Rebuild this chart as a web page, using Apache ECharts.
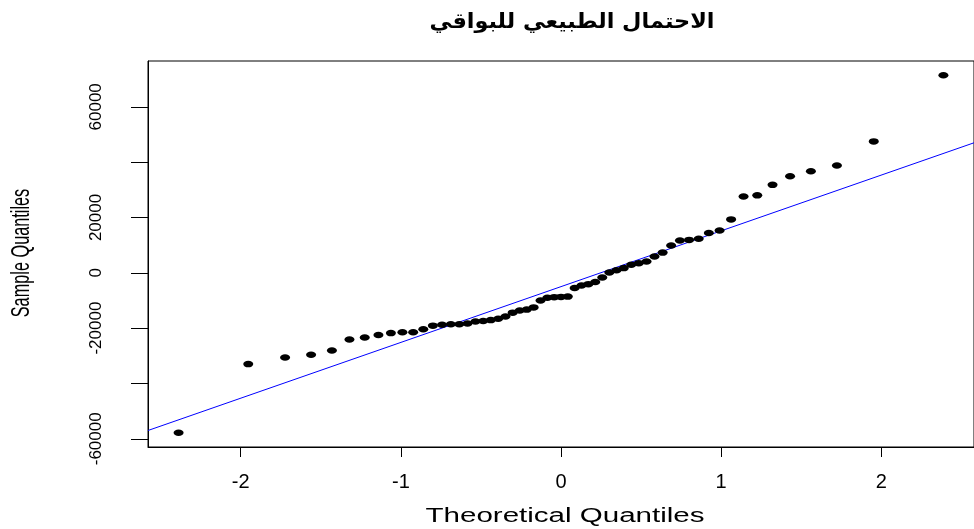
<!DOCTYPE html>
<html>
<head>
<meta charset="utf-8">
<script src="https://cdn.jsdelivr.net/npm/echarts@6/dist/echarts.min.js"></script>
<style>
html,body{margin:0;padding:0;background:#fff;}
#chart{width:974px;height:529px;}
</style>
</head>
<body>
<div id="chart"></div>
<script>
// ---- data ----
const titleText = 'الاحتمال الطبيعي للبواقي';
const xTitle = 'Theoretical Quantiles';
const yTitle = 'Sample Quantiles';

const theoretical = [-2.388, -1.953, -1.723, -1.5605, -1.4305, -1.321, -1.2256, -1.140, -1.0622, -0.9903,
  -0.9232, -0.8599, -0.7999, -0.7427, -0.6878, -0.6349, -0.5838, -0.5342, -0.4858, -0.4385,
  -0.3922, -0.3467, -0.3019, -0.2577, -0.2140, -0.1708, -0.1278, -0.0851, -0.0425, 0,
  0.0425, 0.0851, 0.1278, 0.1708, 0.2140, 0.2577, 0.3019, 0.3467, 0.3922, 0.4385,
  0.4858, 0.5342, 0.5838, 0.6349, 0.6878, 0.7427, 0.7999, 0.8599, 0.9232, 0.9903,
  1.0622, 1.140, 1.2256, 1.321, 1.4305, 1.5605, 1.723, 1.953, 2.388];

const sample = [-57800, -33000, -30600, -29600, -28100, -24100, -23400, -22500, -21800, -21500,
  -21500, -20400, -19100, -18800, -18600, -18600, -18300, -17600, -17400, -17100,
  -16600, -15800, -14400, -13600, -13300, -12500, -10000, -9000, -8800, -8700,
  -8600, -5500, -4600, -4100, -3300, -1700, 100, 900, 1700, 2900,
  3500, 4100, 5900, 7300, 9900, 11700, 11900, 12300, 14400, 15300,
  19300, 27600, 28000, 31800, 34900, 36700, 38800, 47500, 71400];

const xTicks = [-2, -1, 0, 1, 2];
const yTicks = [-60000, -40000, -20000, 0, 20000, 40000, 60000];
const yTickLabels = [-60000, -20000, 0, 20000, 60000];

const xRange = [-2.579, 2.579];
const yRange = [-62970, 76570];

// ---- qqline through the quartiles (as R's qqline) ----
function quantile7(arr, p) {
  const s = arr.slice().sort((a, b) => a - b);
  const h = (s.length - 1) * p;
  const lo = Math.floor(h);
  return s[lo] + (h - lo) * (s[Math.min(lo + 1, s.length - 1)] - s[lo]);
}
const zq = 0.6744897501960817;
const q1 = quantile7(sample, 0.25), q3 = quantile7(sample, 0.75);
const slope = (q3 - q1) / (2 * zq);
const intercept = q1 + slope * zq;
const lineData = [[xRange[0], intercept + slope * xRange[0]], [xRange[1], intercept + slope * xRange[1]]];

const points = theoretical.map((x, i) => [x, sample[i]]);

// text width helper
const cv = document.createElement('canvas').getContext('2d');
function textW(font, t) { cv.font = font; return cv.measureText(t).width; }

const FF = "'Liberation Sans', Arial, sans-serif";
const titleFont = "bold 21px 'DejaVu Sans', sans-serif";
const titleScale = 285 / textW(titleFont, titleText);
const xTitleFont = "19.5px " + FF;
const xTitleScale = 279 / textW(xTitleFont, xTitle);
const yTitleFont = "16.3px " + FF;
const yTitleScale = 1.55;

const chart = echarts.init(document.getElementById('chart'), null, {renderer: 'canvas'});
chart.setOption({
  backgroundColor: '#fff',
  animation: false,
  grid: {left: 148, top: 61, width: 833.6, height: 386, show: true, borderColor: '#000', borderWidth: 1, backgroundColor: 'transparent'},
  xAxis: {
    type: 'value', min: xRange[0], max: xRange[1],
    axisLine: {show: true, onZero: false, lineStyle: {color: '#000', width: 1}},
    axisTick: {show: true, customValues: xTicks, length: 10, lineStyle: {color: '#000', width: 1}},
    axisLabel: {show: true, customValues: xTicks, margin: 25, color: '#000', fontSize: 20, fontFamily: FF,
      formatter: v => String(v)},
    splitLine: {show: false}
  },
  yAxis: {
    type: 'value', min: yRange[0], max: yRange[1],
    axisLine: {show: true, onZero: false, lineStyle: {color: '#000', width: 1}},
    axisTick: {show: true, customValues: yTicks, length: 17, lineStyle: {color: '#000', width: 1}},
    axisLabel: {show: true, customValues: yTickLabels, rotate: 90, margin: 43.5, color: '#000', fontSize: 17, fontFamily: FF,
      formatter: v => String(v)},
    splitLine: {show: false}
  },
  graphic: [
    {type: 'text', x: 572, y: 23, scaleX: titleScale, silent: true,
      style: {text: titleText, font: titleFont, fill: '#000', align: 'center', verticalAlign: 'middle'}},
    {type: 'text', x: 565, y: 517, scaleX: xTitleScale, silent: true,
      style: {text: xTitle, font: xTitleFont, fill: '#000', align: 'center', verticalAlign: 'middle'}},
    {type: 'text', x: 22, y: 253, rotation: Math.PI / 2, scaleY: yTitleScale, silent: true,
      style: {text: yTitle, font: yTitleFont, fill: '#000', align: 'center', verticalAlign: 'middle'}}
  ],
  series: [
    {type: 'line', data: lineData, showSymbol: false, symbol: 'none', clip: true, silent: true,
      lineStyle: {color: '#0000ff', width: 1}, z: 1},
    {type: 'scatter', data: points, symbol: 'circle', symbolSize: [10, 6.5], clip: false,
      itemStyle: {color: '#000', opacity: 1}, z: 2}
  ]
});
</script>
</body>
</html>
